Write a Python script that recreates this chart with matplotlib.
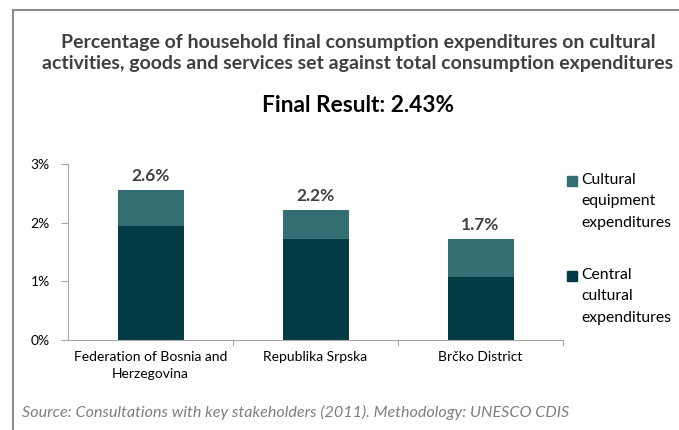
import matplotlib.pyplot as plt
from matplotlib.lines import Line2D
from matplotlib.patches import Rectangle

regions = ['Federation of Bosnia and\nHerzegovina', 'Republika Srpska', 'Brčko District']
central = [1.94, 1.72, 1.07]
equipment = [0.62, 0.49, 0.65]
totals = ['2.6%', '2.2%', '1.7%']
yticks = [0, 1, 2, 3]
legend_labels = ['Cultural\nequipment\nexpenditures', 'Central\ncultural\nexpenditures']

dark = '#023b43'
teal = '#336e72'
txt = '#404040'

plt.rcParams['font.family'] = ['Lato', 'DejaVu Sans']

fig = plt.figure(figsize=(6.79, 4.30), dpi=100)
W, H = 679, 430

# frame lines (only left and top visible)
fig.add_artist(Line2D([13 / W, 13 / W], [0, 1 - 10 / H], transform=fig.transFigure,
                      color='#8c8c8c', lw=1.5))
fig.add_artist(Line2D([13 / W, 1], [1 - 10 / H, 1 - 10 / H], transform=fig.transFigure,
                      color='#8c8c8c', lw=1.5))

fig.text(358 / W, 1 - 53 / H,
         'Percentage of household final consumption expenditures on cultural\n'
         'activities, goods and services set against total consumption expenditures',
         ha='center', va='center', fontsize=14, fontweight='bold', color=txt, linespacing=1.3)
fig.text(358 / W, 1 - 106 / H, 'Final Result: 2.43%', ha='center', va='center',
         fontsize=16.3, fontweight='bold', color='black')

ax = fig.add_axes([68 / W, 1 - 340 / H, (563 - 68) / W, (340 - 164) / H])
x = range(len(regions))
ax.bar(x, central, width=0.4, color=dark)
ax.bar(x, equipment, bottom=central, width=0.4, color=teal)
for i, t in enumerate(totals):
    ax.text(i, central[i] + equipment[i] + 0.1, t, ha='center', va='bottom',
            fontsize=12.5, fontweight='bold', color=txt)

ax.set_xlim(-0.5, 2.5)
ax.set_ylim(0, 3)
ax.set_yticks(yticks)
ax.set_yticklabels([f'{v}%' for v in yticks])
ax.set_xticks(x)
ax.set_xticklabels(regions, linespacing=1.5)
for s in ['top', 'right']:
    ax.spines[s].set_visible(False)
for s in ['left', 'bottom']:
    ax.spines[s].set_color('#a6a6a6')
ax.tick_params(axis='y', length=5, color='#a6a6a6', labelsize=10, labelcolor='black', pad=8)
ax.tick_params(axis='x', length=0, labelsize=10, labelcolor='black', pad=8)
for b in [0.5, 1.5, 2.5]:
    ax.plot([b, b], [0, -0.08], color='#a6a6a6', lw=0.8, clip_on=False)

# legend drawn by hand so the squares sit on the first line
for lab, col, ytop in zip(legend_labels, [teal, dark], [176, 271]):
    fig.add_artist(Rectangle((567 / W, 1 - (ytop + 10) / H), 10 / W, 10 / H,
                             transform=fig.transFigure, color=col))
    fig.text(581 / W, 1 - (ytop - 3) / H, lab, ha='left', va='top', fontsize=11.3,
             color='black', linespacing=1.68)

fig.text(22 / W, 1 - 412 / H,
         'Source: Consultations with key stakeholders (2011). Methodology: UNESCO CDIS',
         ha='left', va='center', fontsize=11.6, style='italic', color='#7f7f7f')

fig.savefig('out.png', dpi=100)
